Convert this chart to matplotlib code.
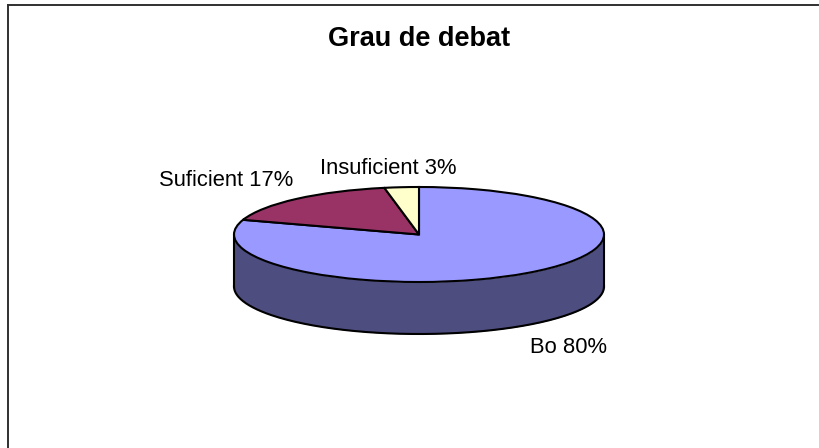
import numpy as np
import matplotlib
matplotlib.use('Agg')
import matplotlib.pyplot as plt

labels = ['Bo', 'Suficient', 'Insuficient']
values = [80, 17, 3]
colors = ['#9999FF', '#993366', '#FFFFCC']
wall_color = '#4D4D80'

W, H = 819, 448
plt.rcParams['font.family'] = ['Liberation Sans', 'DejaVu Sans']

fig = plt.figure(figsize=(W/100, H/100), dpi=100)

# chart frame, only left and top edges are visible in the picture
fig.add_artist(plt.Line2D([7.5/W, 7.5/W], [0, 1-5.5/H], color='#303030', lw=1.4))
fig.add_artist(plt.Line2D([7.5/W, 818/W], [1-5.5/H, 1-5.5/H], color='#303030', lw=1.4))

cx, cy, a, b, depth = 419, 234.5, 185, 47.5, 52
ax = fig.add_axes([(cx-a)/W, 1-(cy+b)/H, 2*a/W, 2*b/H])

ax.pie(values, colors=colors, startangle=90, counterclock=False, radius=1,
       wedgeprops={'edgecolor': 'black', 'linewidth': 1.5})
ax.set_aspect('auto')
ax.set_xlim(-1, 1)
ax.set_ylim(-1, 1)
for p in ax.patches:
    p.set_clip_on(False)

# side wall of the cylinder
d = depth/b
t = np.linspace(np.pi, 2*np.pi, 200)
x = np.cos(t)
ax.fill_between(x, np.sin(t), np.sin(t)-d, color=wall_color, lw=0, clip_on=False, zorder=0)
ax.plot(x, np.sin(t)-d, color='black', lw=1.5, clip_on=False, zorder=3)
ax.plot([-1, -1], [0, -d], color='black', lw=1.5, clip_on=False, zorder=3)
ax.plot([1, 1], [0, -d], color='black', lw=1.5, clip_on=False, zorder=3)

fs = 15.8
fig.text(419.5/W, 1-39.5/H, 'Grau de debat', ha='center', va='center', fontsize=19.5, fontweight='bold')
fig.text(226.5/W, 1-180.5/H, f'{labels[1]} {values[1]}%', ha='center', va='center', fontsize=fs)
fig.text(388/W, 1-168/H, f'{labels[2]} {values[2]}%', ha='center', va='center', fontsize=fs)
fig.text(569/W, 1-347.5/H, f'{labels[0]} {values[0]}%', ha='center', va='center', fontsize=fs)

fig.savefig('out.png', dpi=100)
